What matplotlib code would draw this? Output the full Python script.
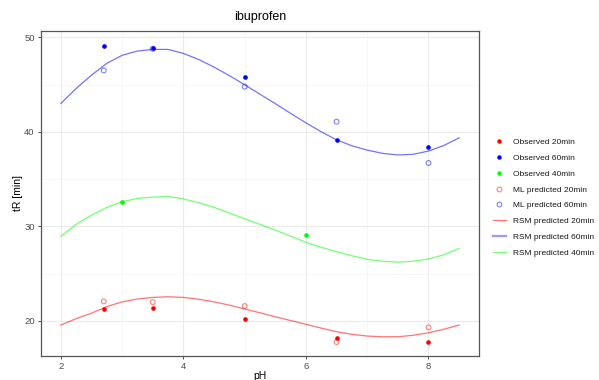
import matplotlib
matplotlib.use("Agg")
import matplotlib.pyplot as plt
from matplotlib.lines import Line2D

plt.rcParams['font.family'] = ['Liberation Sans', 'DejaVu Sans']

# measured points (pH, retention time)
ph_obs = [2.7, 3.5, 5.0, 6.5, 8.0]
obs_20 = [21.27, 21.34, 20.21, 18.17, 17.78]
obs_60 = [49.08, 48.84, 45.77, 39.10, 38.42]
ph_obs40 = [3.0, 6.0]
obs_40 = [32.62, 29.05]

# ML predictions
ml_20 = [22.05, 21.97, 21.55, 17.75, 19.30]
ml_60 = [46.50, 48.78, 44.78, 41.07, 36.70]

# RSM model curves
ph_rsm = [2.0, 2.25, 2.5, 2.75, 3.0, 3.25, 3.5, 3.75, 4.0, 4.25, 4.5, 4.75, 5.0,
          5.25, 5.5, 5.75, 6.0, 6.25, 6.5, 6.75, 7.0, 7.25, 7.5, 7.75, 8.0, 8.25, 8.5]
rsm_20 = [19.55, 20.22, 20.80, 21.50, 22.00, 22.30, 22.47, 22.54, 22.47, 22.28, 22.00,
          21.65, 21.24, 20.84, 20.42, 20.02, 19.62, 19.22, 18.84, 18.56, 18.38, 18.30,
          18.31, 18.46, 18.73, 19.10, 19.55]
rsm_60 = [43.00, 44.60, 46.00, 47.25, 48.10, 48.55, 48.72, 48.72, 48.30, 47.65, 46.85,
          45.95, 44.98, 43.98, 42.98, 41.95, 40.95, 40.00, 39.15, 38.52, 38.06, 37.72,
          37.55, 37.62, 37.96, 38.55, 39.36]
rsm_40 = [28.94, 30.20, 31.19, 32.00, 32.60, 32.95, 33.09, 33.15, 32.90, 32.50, 32.00,
          31.40, 30.80, 30.20, 29.60, 28.95, 28.30, 27.78, 27.30, 26.88, 26.50, 26.30,
          26.20, 26.30, 26.53, 26.98, 27.66]

RED, BLUE, GREEN = '#FF0000', '#0000FF', '#00FF00'
GRID = '#EBEBEB'

fig = plt.figure(figsize=(5.99, 3.80), dpi=100)
ax = fig.add_axes([0.0684, 0.0632, 0.7313, 0.8552])

ax.plot(ph_rsm, rsm_20, color=RED, lw=0.9, alpha=0.55, zorder=2)
ax.plot(ph_rsm, rsm_60, color=BLUE, lw=0.9, alpha=0.55, zorder=2)
ax.plot(ph_rsm, rsm_40, color=GREEN, lw=0.9, alpha=0.55, zorder=2)

ax.scatter(ph_obs, ml_20, s=12, facecolors='none', edgecolors=RED, linewidths=0.8,
           alpha=0.5, zorder=3)
ax.scatter(ph_obs, ml_60, s=12, facecolors='none', edgecolors=BLUE, linewidths=0.8,
           alpha=0.5, zorder=3)
ax.scatter(ph_obs, obs_20, s=11, color=RED, linewidths=0, zorder=4)
ax.scatter(ph_obs, obs_60, s=11, color=BLUE, linewidths=0, zorder=4)
ax.scatter(ph_obs40, obs_40, s=11, color=GREEN, linewidths=0, zorder=4)

ax.set_xlim(1.675, 8.825)
ax.set_ylim(16.27, 50.67)
ax.set_xticks([2, 4, 6, 8])
ax.set_yticks([20, 30, 40, 50])
ax.set_xticks([3, 5, 7], minor=True)
ax.set_yticks([25, 35, 45], minor=True)
ax.grid(True, which='major', color=GRID, lw=0.8)
ax.grid(True, which='minor', color='#F4F4F4', lw=0.5)
ax.set_axisbelow(True)
ax.tick_params(which='major', length=2.5, width=0.6, color='#333333',
               labelsize=6.8, labelcolor='#4D4D4D', pad=2)
ax.tick_params(which='minor', length=0)
for sp in ax.spines.values():
    sp.set_color('#555555')
    sp.set_linewidth(0.9)

ax.set_title('ibuprofen', fontsize=9, pad=8)
ax.set_xlabel('pH', fontsize=7.5, labelpad=0)
ax.set_ylabel('tR [min]', fontsize=7.5, labelpad=1)

handles = [
    Line2D([], [], ls='none', marker='o', ms=3.2, mfc=RED, mec='none'),
    Line2D([], [], ls='none', marker='o', ms=3.2, mfc=BLUE, mec='none'),
    Line2D([], [], ls='none', marker='o', ms=3.2, mfc=GREEN, mec='none'),
    Line2D([], [], ls='none', marker='o', ms=3.4, mfc='none', mec=RED, mew=0.8, alpha=0.5),
    Line2D([], [], ls='none', marker='o', ms=3.4, mfc='none', mec=BLUE, mew=0.8, alpha=0.5),
    Line2D([], [], color=RED, lw=0.9, alpha=0.55),
    Line2D([], [], color=BLUE, lw=1.6, alpha=0.4),
    Line2D([], [], color=GREEN, lw=0.9, alpha=0.55),
]
labels = ['Observed 20min', 'Observed 60min', 'Observed 40min',
          'ML predicted 20min', 'ML predicted 60min',
          'RSM predicted 20min', 'RSM predicted 60min', 'RSM predicted 40min']
fig.legend(handles, labels, loc='center left', bbox_to_anchor=(0.81, 0.48),
           frameon=False, fontsize=6.0, handlelength=1.6, handletextpad=0.8,
           labelspacing=0.95, labelcolor='#1A1A1A')

fig.savefig('out.png', dpi=100)
